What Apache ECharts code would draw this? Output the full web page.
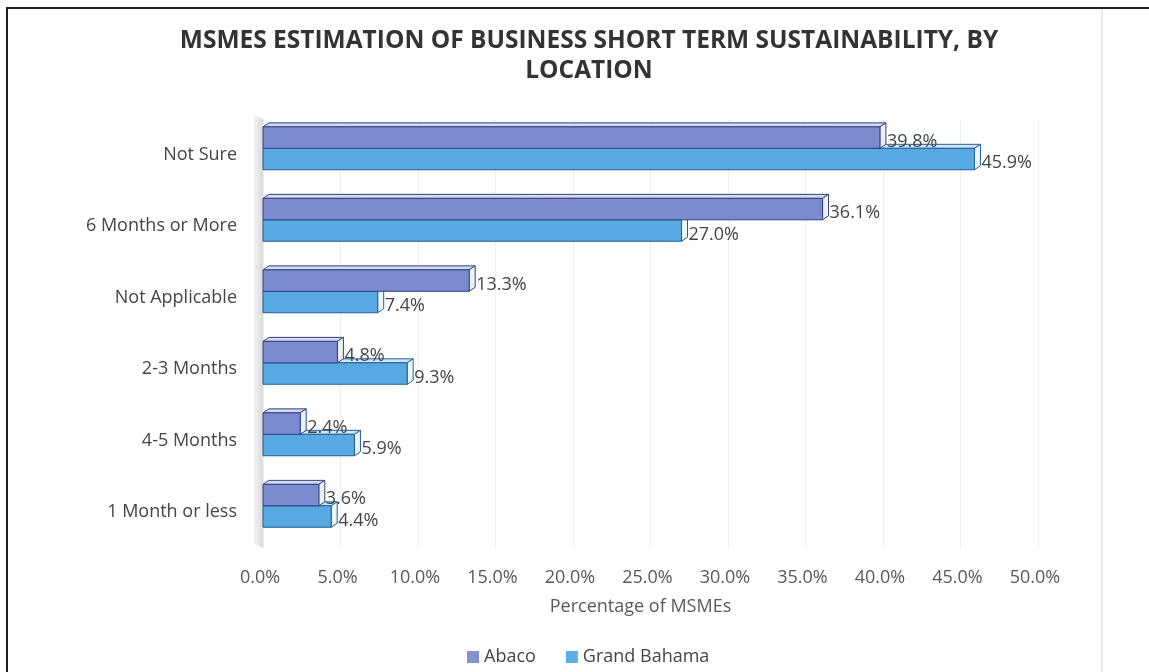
<!DOCTYPE html>
<html>
<head>
<meta charset="utf-8">
<script src="https://cdn.jsdelivr.net/npm/echarts@6/dist/echarts.min.js"></script>
<style>
  html, body { margin: 0; padding: 0; background: #fff; }
  #wrap { position: relative; width: 1149px; height: 672px; overflow: hidden; }
  #chart { position: absolute; left: 0; top: 0; width: 1149px; height: 672px; }
  #frame { position: absolute; left: 6px; top: 7px; width: 1300px; height: 800px;
           border-left: 2px solid #1e1e1e; border-top: 2px solid #1e1e1e; pointer-events: none; }
  #edge { position: absolute; left: 1101px; top: 9px; width: 2px; height: 663px;
          background: #ebebeb; pointer-events: none; }
</style>
</head>
<body>
<div id="wrap">
  <div id="chart"></div>
  <div id="frame"></div>
  <div id="edge"></div>
</div>
<script>
// Survey answers, listed top to bottom
const categories = ['Not Sure', '6 Months or More', 'Not Applicable', '2-3 Months', '4-5 Months', '1 Month or less'];
// Share of MSMEs (%) per answer
const abaco = [39.8, 36.1, 13.3, 4.8, 2.4, 3.6];
const grandBahama = [45.9, 27.0, 7.4, 9.3, 5.9, 4.4];
// Value axis range and step (%)
const axisMin = 0;
const axisMax = 50;
const axisStep = 5;

const FONT = '"Open Sans", "Noto Sans", sans-serif';

// Bar geometry, as fractions of one category band, plus the 3D depth offset
const BAR_FRAC = 0.3;
const PAIR_TOP = 0.39;
const DX = 6, DY = 4;

// Draws one series as extruded bars: top face, end cap, front face, value label
function extrudedBars(slot, face, topFace, cap, edge) {
  return function (params, api) {
    const val = api.value(0);
    const cat = api.value(1);
    const start = api.coord([0, cat]);
    const end = api.coord([val, cat]);
    const band = api.size([0, 1])[1];
    const h = band * BAR_FRAC;
    const y0 = start[1] - band * PAIR_TOP + slot * h;
    const y1 = y0 + h;
    const x0 = start[0];
    const x1 = end[0];
    return {
      type: 'group',
      children: [
        {
          type: 'polygon',
          shape: { points: [[x0, y0], [x1, y0], [x1 + DX, y0 - DY], [x0 + DX, y0 - DY]] },
          style: { fill: topFace, stroke: edge, lineWidth: 1 }
        },
        {
          type: 'polygon',
          shape: { points: [[x1, y0], [x1 + DX, y0 - DY], [x1 + DX, y1 - DY], [x1, y1]] },
          style: { fill: cap, stroke: edge, lineWidth: 1 }
        },
        {
          type: 'rect',
          shape: { x: x0, y: y0, width: x1 - x0, height: h },
          style: { fill: face, stroke: edge, lineWidth: 1 }
        },
        {
          type: 'text',
          x: x1 + DX + 1,
          y: (y0 + y1) / 2 + 4,
          style: {
            text: val.toFixed(1) + '%',
            fill: '#454545',
            font: '18px ' + FONT,
            verticalAlign: 'middle',
            align: 'left'
          }
        }
      ]
    };
  };
}

// Light grey side wall to the left of the plot area
function sideWall(params) {
  const cs = params.coordSys;
  return {
    type: 'polygon',
    shape: {
      points: [[cs.x - 9, cs.y - 4], [cs.x, cs.y], [cs.x, cs.y + cs.height], [cs.x - 9, cs.y + cs.height - 4]]
    },
    style: {
      fill: new echarts.graphic.LinearGradient(0, 0, 1, 0, [
        { offset: 0, color: '#f3f3f3' },
        { offset: 1, color: '#d9d9d9' }
      ])
    }
  };
}

const chart = echarts.init(document.getElementById('chart'), null, { renderer: 'canvas' });

chart.setOption({
  backgroundColor: '#ffffff',
  animation: false,
  title: {
    text: 'MSMES ESTIMATION OF BUSINESS SHORT TERM SUSTAINABILITY, BY\nLOCATION',
    left: 584,
    top: 21,
    textAlign: 'center',
    textStyle: {
      fontFamily: FONT,
      fontWeight: 'bold',
      fontSize: 24.5,
      lineHeight: 30,
      color: '#333333'
    }
  },
  legend: {
    data: ['Abaco', 'Grand Bahama'],
    left: 462,
    top: 643,
    icon: 'rect',
    itemWidth: 12,
    itemHeight: 12,
    itemGap: 30,
    textStyle: { fontFamily: FONT, fontSize: 18, color: '#454545' }
  },
  grid: { left: 263, right: 111, top: 119, bottom: 124 },
  xAxis: {
    type: 'value',
    min: axisMin,
    max: axisMax,
    interval: axisStep,
    name: 'Percentage of MSMEs',
    nameLocation: 'middle',
    nameGap: 50,
    nameTextStyle: { fontFamily: FONT, fontSize: 18, color: '#595959', padding: [0, 20, 0, 0] },
    axisLine: { show: false },
    axisTick: { show: false },
    axisLabel: {
      margin: 21,
      padding: [0, 6, 0, 0],
      fontFamily: FONT,
      fontSize: 18,
      color: '#595959',
      formatter: v => v.toFixed(1) + '%'
    },
    splitLine: { show: true, lineStyle: { color: '#efefef', width: 1 } }
  },
  yAxis: {
    type: 'category',
    data: categories,
    inverse: true,
    axisLine: { show: false },
    axisTick: { show: false },
    axisLabel: { margin: 26, fontFamily: FONT, fontSize: 18, color: '#454545' },
    splitLine: { show: false }
  },
  series: [
    {
      type: 'custom',
      name: 'wall',
      silent: true,
      z: 1,
      data: [[0, 0]],
      encode: { x: 0, y: 1 },
      renderItem: sideWall
    },
    {
      type: 'custom',
      name: 'Abaco',
      z: 4,
      itemStyle: { color: '#8393d2' },
      data: abaco.map((v, i) => [v, i]),
      encode: { x: 0, y: 1 },
      renderItem: extrudedBars(0, '#7a8bd0', '#d3d9f0', '#eef1fa', '#34437f')
    },
    {
      type: 'custom',
      name: 'Grand Bahama',
      z: 3,
      itemStyle: { color: '#5aaeea' },
      data: grandBahama.map((v, i) => [v, i]),
      encode: { x: 0, y: 1 },
      renderItem: extrudedBars(1, '#58a8e2', '#cfe6f8', '#eef6fd', '#245f96')
    }
  ]
});
</script>
</body>
</html>
